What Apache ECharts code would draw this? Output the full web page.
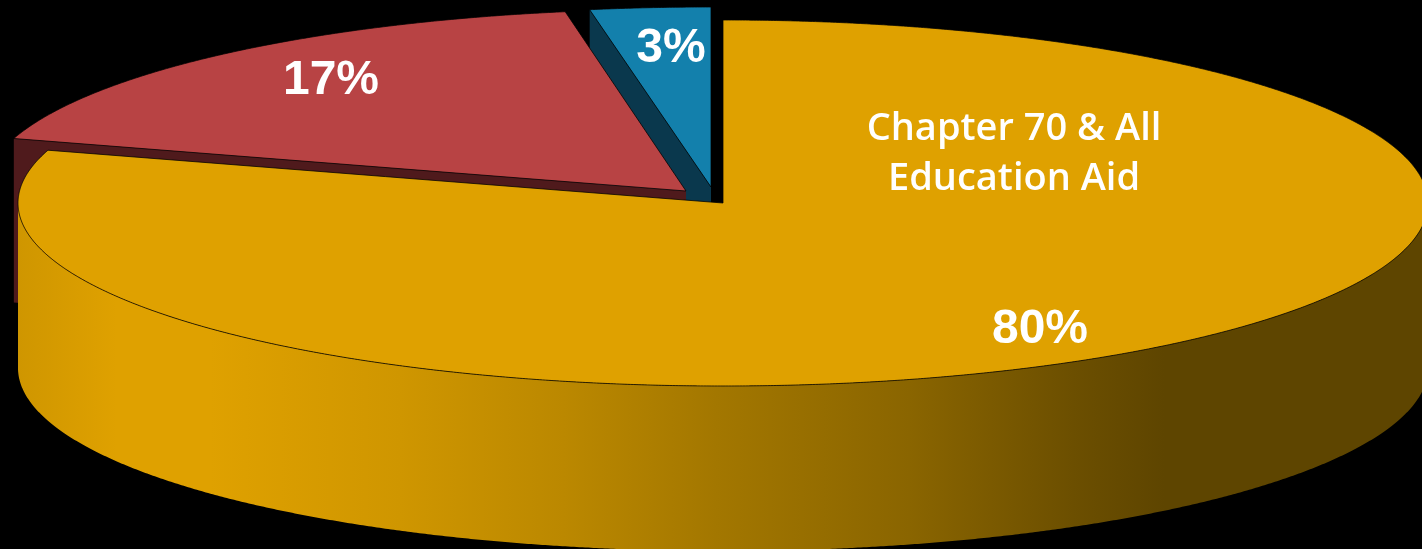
<!DOCTYPE html>
<html>
<head>
<meta charset="utf-8">
<title>Education aid share</title>
<style>
  html, body { margin: 0; padding: 0; background: #000; }
  #chart { width: 1422px; height: 549px; }
</style>
<script src="https://cdn.jsdelivr.net/npm/echarts@6/dist/echarts.min.js"></script>
</head>
<body>
<div id="chart"></div>
<script>
// Share of aid by slice, clockwise from twelve o'clock.
const categories = ['Chapter 70 & All\nEducation Aid', '', ''];
const values = [80, 17, 3];

// Tilted-pie drawing setup.
const topColors = ['#dfa100', '#b84344', '#1380ac'];
const cutColors = [null, '#4f1a1c', '#0a384d'];
const pieces = [
  { cx: 723, cy: 203, rx: 705, ry: 183, depth: 165 },
  { cx: 686, cy: 191, rx: 702, ry: 182, depth: 164 },
  { cx: 711, cy: 187, rx: 705, ry: 180, depth: 164 }
];
const percentAnchors = [[1040, 330], [331, 81], [671, 49]];
const nameAnchor = [1014, 154];
// Foreshortening of the sweep near the axes of the tilted disc, in degrees.
const sweepBend = 1.3;

const rad = Math.PI / 180;
const total = values.reduce((a, b) => a + b, 0);

function project(p, deg, drop) {
  const t = (deg - sweepBend * Math.sin(4 * deg * rad)) * rad;
  return [p.cx + p.rx * Math.sin(t), p.cy - p.ry * Math.cos(t) + (drop || 0)];
}

function arc(p, from, to, drop) {
  const pts = [];
  const n = Math.max(2, Math.ceil(Math.abs(to - from) * 4));
  for (let i = 0; i <= n; i++) pts.push(project(p, from + (to - from) * i / n, drop));
  return pts;
}

function renderSlice(params, api) {
  const i = api.value(0);
  const value = api.value(1);
  const p = pieces[i];
  let start = 0;
  for (let k = 0; k < i; k++) start += values[k];
  const a0 = start / total * 360;
  const a1 = (start + value) / total * 360;
  const tip = [p.cx, p.cy];
  const children = [];

  if (i === 0) {
    // Visible wall of the large slice: the near half of the rim.
    children.push({
      type: 'polygon',
      shape: { points: arc(p, 90, 270, 0).concat(arc(p, 270, 90, p.depth)) },
      style: {
        fill: {
          type: 'linear', x: 18, y: 0, x2: 1428, y2: 0, global: true,
          colorStops: [
            { offset: 0, color: '#cf9600' },
            { offset: 0.07, color: '#dfa100' },
            { offset: 0.136, color: '#dfa100' },
            { offset: 0.271, color: '#cf9600' },
            { offset: 0.387, color: '#bb8800' },
            { offset: 0.495, color: '#a37700' },
            { offset: 0.632, color: '#8a6500' },
            { offset: 0.748, color: '#6c4f00' },
            { offset: 0.813, color: '#5e4500' },
            { offset: 1, color: '#5e4500' }
          ]
        }
      }
    });
  } else {
    // Cut face left exposed by pulling the slice out of the pie.
    const corner = project(p, a0);
    children.push({
      type: 'polygon',
      shape: { points: [tip, corner, [corner[0], corner[1] + p.depth], [tip[0], tip[1] + p.depth]] },
      style: { fill: cutColors[i] }
    });
  }

  children.push({
    type: 'polygon',
    shape: { points: [tip].concat(arc(p, a0, a1, 0)) },
    style: { fill: topColors[i], stroke: 'rgba(0,0,0,0.75)', lineWidth: 1 }
  });

  children.push({
    type: 'text',
    style: {
      text: value + '%', x: percentAnchors[i][0], y: percentAnchors[i][1],
      fill: '#fff', font: 'bold 48px "Liberation Sans", Arial, sans-serif',
      align: 'center', verticalAlign: 'middle'
    }
  });

  if (categories[i]) {
    children.push({
      type: 'text',
      style: {
        text: categories[i], x: nameAnchor[0], y: nameAnchor[1],
        fill: '#fff', font: '600 38px "Open Sans", Lato, sans-serif', lineHeight: 50,
        align: 'center', verticalAlign: 'middle'
      }
    });
  }
  return { type: 'group', children };
}

const chart = echarts.init(document.getElementById('chart'));
chart.setOption({
  backgroundColor: '#000',
  animation: false,
  series: [{
    type: 'custom',
    coordinateSystem: 'none',
    renderItem: renderSlice,
    // Painted back to front so the large slice sits over the pulled-out ones.
    data: values.map((v, i) => [i, v]).reverse()
  }]
});
</script>
</body>
</html>
